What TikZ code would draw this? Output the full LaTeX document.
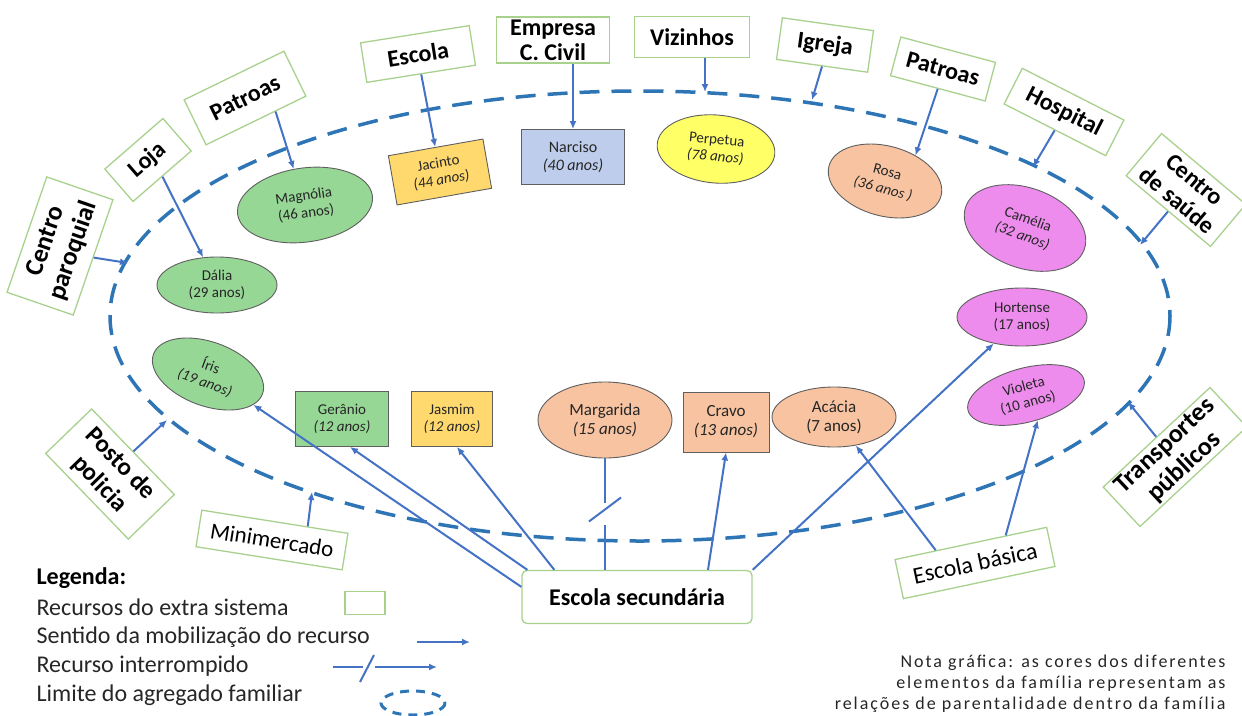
\documentclass[tikz,border=0pt]{standalone}
\usepackage{fontspec}
\setmainfont{Carlito}
\newfontfamily\notafont[LetterSpace=11]{Carlito}
\usetikzlibrary{shapes.geometric, arrows.meta, calc}

\definecolor{rescol}{RGB}{169,209,142}
\definecolor{arrcol}{RGB}{68,114,196}
\definecolor{limcol}{RGB}{46,117,182}
\definecolor{verde}{RGB}{150,215,150}
\definecolor{amarelo}{RGB}{255,217,110}
\definecolor{azul}{RGB}{190,205,235}
\definecolor{limao}{RGB}{255,255,102}
\definecolor{salmao}{RGB}{247,195,160}
\definecolor{lilas}{RGB}{238,140,238}
\definecolor{contorno}{RGB}{95,95,95}

\tikzset{
	recurso/.style={draw=rescol, line width=1.3pt, fill=white, align=center, inner sep=2pt,
		font=\fontsize{24}{27}\selectfont\bfseries},
	membro/.style={draw=contorno, line width=0.9pt, align=center, inner sep=1pt, text=black!85,
		font=\fontsize{15}{17}\selectfont},
	oval/.style={membro, ellipse},
	caixa/.style={membro, rectangle},
	resline/.style={draw=arrcol, line width=2pt},
	mob/.style={resline, -{Latex[length=8pt,width=7pt]}},
	limite/.style={draw=limcol, line width=3.5pt, dash pattern=on 20pt off 12pt},
	legtxt/.style={anchor=west, text=black!85, font=\fontsize{24}{26}\selectfont},
}

\begin{document}
\begin{tikzpicture}[x=1pt, y=-1pt]
	\useasboundingbox (0,0) rectangle (1242,715);
	% family boundary
	\draw[limite] (640,316) ellipse (530 and 225);

	% family members
	\node[oval, fill=verde, minimum width=120pt, minimum height=56pt] (dalia) at (217,285) {Dália\\(29 anos)};
	\node[oval, fill=verde, minimum width=136pt, minimum height=74pt, rotate=8] (magnolia) at (305,205) {Magnólia\\(46 anos)};
	\node[caixa, fill=amarelo, minimum width=96pt, minimum height=50pt, rotate=10] (jacinto) at (440,172) {Jacinto\\\textit{(44 anos)}};
	\node[caixa, fill=azul, minimum width=103pt, minimum height=55pt, font=\fontsize{16}{18}\selectfont] (narciso) at (573,157) {Narciso\\\textit{(40 anos)}};
	\node[oval, fill=limao, minimum width=118pt, minimum height=68pt, rotate=-5] (perpetua) at (716,149) {Perpetua\\\textit{(78 anos)}};
	\node[oval, fill=salmao, minimum width=116pt, minimum height=70pt, rotate=-15] (rosa) at (885,181) {Rosa\\\textit{(36 anos )}};
	\node[oval, fill=lilas, minimum width=126pt, minimum height=80pt, rotate=-20] (camelia) at (1025,228) {Camélia\\\textit{(32 anos)}};
	\node[oval, fill=lilas, minimum width=130pt, minimum height=58pt] (hortense) at (1022,317) {Hortense\\(17 anos)};
	\node[oval, fill=lilas, minimum width=120pt, minimum height=54pt, rotate=15] (violeta) at (1026,395) {Violeta\\(10 anos)};
	\node[oval, fill=verde, minimum width=116pt, minimum height=64pt, rotate=-20] (iris) at (208,374) {Íris\\\textit{(19 anos)}};
	\node[caixa, fill=verde, minimum width=93pt, minimum height=55pt] (geranio) at (342,419) {Gerânio\\\textit{(12 anos)}};
	\node[caixa, fill=amarelo, minimum width=81pt, minimum height=55pt] (jasmim) at (452,419) {Jasmim\\\textit{(12 anos)}};
	\node[oval, fill=salmao, minimum width=134pt, minimum height=76pt, font=\fontsize{17}{19}\selectfont] (margarida) at (605,420) {Margarida\\\textit{(15 anos)}};
	\node[caixa, fill=salmao, minimum width=86pt, minimum height=60pt, font=\fontsize{17}{19}\selectfont] (cravo) at (726,422) {Cravo\\\textit{(13 anos)}};
	\node[oval, fill=salmao, minimum width=124pt, minimum height=60pt, font=\fontsize{17}{19}\selectfont] (acacia) at (834,417) {Acácia\\(7 anos)};

	% extra-system resources
	\node[recurso, minimum width=122pt, minimum height=70pt, rotate=71, font=\fontsize{26}{29}\selectfont\bfseries] (cparoq) at (60,246) {Centro\\paroquial};
	\node[recurso, minimum width=77pt, minimum height=43pt, rotate=41] (loja) at (148,160) {Loja};
	\node[recurso, minimum width=111pt, minimum height=50pt, rotate=26] (patroasA) at (245,98) {Patroas};
	\node[recurso, minimum width=110pt, minimum height=40pt, rotate=9] (escola) at (418,54) {Escola};
	\node[recurso, minimum width=113pt, minimum height=46pt, inner sep=0pt, font=\fontsize{24}{25}\selectfont\bfseries] (empresa) at (553,40) {Empresa\\C. Civil};
	\node[recurso, minimum width=115pt, minimum height=41pt] (vizinhos) at (692,37) {Vizinhos};
	\node[recurso, minimum width=92pt, minimum height=42pt, rotate=-8] (igreja) at (825,45) {Igreja};
	\node[recurso, minimum width=98pt, minimum height=40pt, rotate=-15] (patroasB) at (943,69) {Patroas};
	\node[recurso, minimum width=114pt, minimum height=40pt, rotate=-27] (hospital) at (1064,112) {Hospital};
	\node[recurso, minimum width=110pt, minimum height=55pt, rotate=-40] (csaude) at (1186,190) {Centro\\de saúde};
	\node[recurso, minimum width=119pt, minimum height=64pt, rotate=-46, font=\fontsize{25}{29}\selectfont\bfseries] (posto) at (110,474) {Posto de\\policia};
	\node[recurso, minimum width=148pt, minimum height=37pt, rotate=-9, font=\fontsize{23}{24}\selectfont] (minimercado) at (272,540) {Minimercado};
	\node[recurso, rounded corners=5pt, minimum width=230pt, minimum height=53pt] (esec) at (637,597) {Escola secundária};
	\node[recurso, minimum width=155pt, minimum height=40pt, rotate=12, font=\fontsize{24}{25}\selectfont] (ebasica) at (975,563) {Escola básica};
	\node[recurso, minimum width=146pt, minimum height=52pt, rotate=43, font=\fontsize{26}{29}\selectfont\bfseries] (transp) at (1175,457) {Transportes\\públicos};

	% points on the boundary
	\coordinate (bCP) at (128,263);
	\coordinate (bVz) at (705,92);
	\coordinate (bIg) at (812,100);
	\coordinate (bHo) at (1033,167);
	\coordinate (bCS) at (1140,245);
	\coordinate (bPP) at (167,420);
	\coordinate (bMi) at (312,492);
	\coordinate (bTP) at (1128,402);

	% mobilisation of resources
	\draw[mob] (cparoq.south) -- (bCP);
	\draw[mob] (loja.south) -- (dalia);
	\draw[mob] (patroasA.-50) -- (magnolia);
	\draw[mob] (escola.south) -- (jacinto);
	\draw[mob] (empresa.south -| narciso.north) -- (narciso.north);
	\draw[mob] (vizinhos.south -| bVz) -- (bVz);
	\draw[mob] (igreja.south) -- (bIg);
	\draw[mob] (patroasB.south) -- (rosa.55);
	\draw[mob] (hospital.south) -- (bHo);
	\draw[mob] (csaude.south) -- (bCS);
	\draw[mob] (posto.north) -- (bPP);
	\draw[mob] (minimercado.30) -- (bMi);
	\draw[mob] (transp.north) -- (bTP);
	\draw[mob] (esec.175) -- (iris);
	\draw[mob] ([xshift=6pt]esec.north west) -- (geranio.-74);
	\draw[mob] ([xshift=33pt]esec.north west) -- (jasmim.-80);
	\draw[mob] ([xshift=71pt]esec.north) -- (cravo.south);
	\draw[mob] (esec.north east) -- (hortense);
	\draw[mob] (ebasica.150) -- (acacia);
	\draw[mob] (ebasica.30) -- (violeta.-80);
	% interrupted resource
	\draw[resline] (margarida.south) -- ++(0,45) coordinate (mgCut);
	\draw[resline] ([yshift=-22pt]mgCut) -- (margarida.south |- esec.north);
	\draw[resline] ([shift={(-16pt,-18pt)}]mgCut) -- ([shift={(16pt,6pt)}]mgCut);

	% legend
	\node[legtxt, font=\fontsize{24}{26}\selectfont\bfseries, text=black] (legenda) at (33,578) {Legenda:};
	\node[legtxt] (lgRec) at (33,607) {Recursos do extra sistema};
	\node[legtxt] (lgMob) at (33,637) {Sentido da mobilização do recurso};
	\node[legtxt] (lgInt) at (33,666) {Recurso interrompido};
	\node[legtxt] (lgLim) at (33,695) {Limite do agregado familiar};
	\node[draw=rescol, line width=1.3pt, minimum width=40pt, minimum height=23pt] (lgBox) at (365,603) {};
	\coordinate (lgM1) at (417,642);
	\coordinate (lgM2) at (470,642);
	\draw[mob] (lgM1) -- (lgM2);
	\coordinate (lgI1) at (333,667);
	\coordinate (lgI2) at (363,667);
	\coordinate (lgI3) at (375,667);
	\coordinate (lgI4) at (437,667);
	\draw[resline] (lgI1) -- (lgI2);
	\draw[mob] (lgI3) -- (lgI4);
	\draw[resline] ([shift={(-3pt,-15pt)}]lgI2) -- ([shift={(11pt,12pt)}]lgI2);
	\draw[limite, line width=3pt, dash pattern=on 9pt off 7pt] (413,703) ellipse (32 and 12);

	% note
	\node[anchor=east, align=right, text=black!85, font=\notafont\fontsize{18}{21}\selectfont] (nota) at (1229,684)
		{Nota gráfica: as cores dos diferentes\\elementos da família representam as\\relações de parentalidade dentro da família};
\end{tikzpicture}
\end{document}
